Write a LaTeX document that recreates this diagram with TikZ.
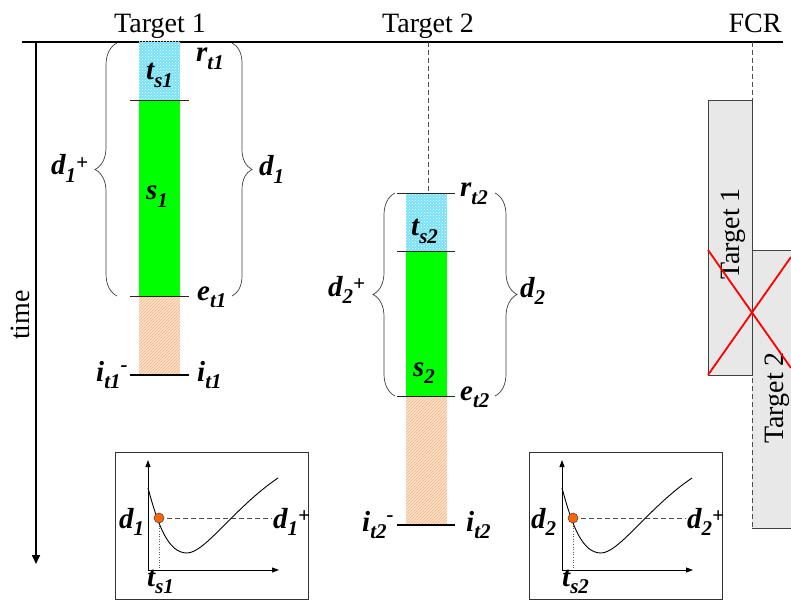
\documentclass[tikz,border=0pt]{standalone}
\usepackage{fontspec}
\setmainfont{Liberation Serif}
\usetikzlibrary{patterns,decorations.pathreplacing,arrows.meta}
\definecolor{cyanfill}{RGB}{120,225,246}
\definecolor{peach}{RGB}{252,226,204}
\definecolor{peachline}{RGB}{246,180,130}
\definecolor{dotorange}{RGB}{255,102,0}
\definecolor{boxgray}{RGB}{232,232,232}
\newcommand\sbs[1]{\raisebox{-0.25em}{\fontsize{21}{21}\selectfont #1}}
\newcommand\sps[1]{\raisebox{0.2em}{\fontsize{21}{21}\selectfont #1}}
\newcommand\spm[1]{\raisebox{0.32em}{\fontsize{21}{21}\selectfont #1}}
\begin{document}
\begin{tikzpicture}[x=1pt,y=-1pt,
  lab/.style={font=\fontsize{29}{29}\selectfont\bfseries\itshape, inner sep=0pt, anchor=base west},
  head/.style={font=\fontsize{28}{28}\selectfont, inner sep=0pt, anchor=base},
  thintick/.style={draw=black!85, line width=0.9pt},
  endtick/.style={draw=black, line width=2pt},
  bracel/.style={decorate, decoration={brace, amplitude=22pt}, draw=black!75, line width=0.7pt},
  bracer/.style={decorate, decoration={brace, amplitude=20pt}, draw=black!75, line width=0.7pt},
  lifeline/.style={draw=black!70, dashed, dash pattern=on 5pt off 3pt, line width=0.8pt},
  cyanbar/.style={fill=cyanfill},
  cyandots/.style={pattern=crosshatch dots, pattern color=white},
  peachbar/.style={fill=peach},
  peachhatch/.style={pattern=north east lines, pattern color=peachline},
  greenbar/.style={fill=green},
  fcrbox/.style={fill=boxgray, draw=black!75, line width=0.8pt},
  redx/.style={draw=red, line width=1.8pt},
  insetbox/.style={draw=black!80, line width=0.8pt},
  axis/.style={draw=black, line width=0.9pt, -{Triangle[length=7pt,width=5pt]}},
  curve/.style={draw=black, line width=0.9pt},
  guide/.style={draw=black!70, dashed, dash pattern=on 5pt off 3pt, line width=1pt},
  dropline/.style={draw=black!65, dotted, line width=0.6pt},
  markdot/.style={circle, fill=dotorange, draw=black!70, line width=0.6pt, minimum size=10pt, inner sep=0pt}
]
\useasboundingbox (0,0) rectangle (791,601);

% ---------- headers and axes ----------
\node[head] (h1) at (160,33) {Target 1};
\node[head] (h2) at (428,33) {Target 2};
\node[head] (h3) at (755,33) {FCR};
\coordinate (topL) at (22,42);
\coordinate (topR) at (783,42);
\draw[line width=2pt] (topL) -- (topR);
\coordinate (tax0) at (36,42);
\coordinate (tax1) at (36,564);
\draw[line width=1.6pt, -{Triangle[length=9pt,width=8pt]}] (tax0) -- (tax1);
\node[font=\fontsize{28}{28}\selectfont, rotate=90, inner sep=0pt] (timelab) at (20,315) {time};

% ---------- column 1 ----------
\fill[cyanbar] (139,42) rectangle (180,100);
\fill[cyandots] (139,42) rectangle (180,100);
\fill[greenbar] (139,100) rectangle (180,296);
\fill[peachbar] (139,296) rectangle (180,375);
\fill[peachhatch] (139,296) rectangle (180,375);
\coordinate (a1l) at (130,100); \coordinate (a1r) at (189,100);
\coordinate (b1l) at (130,296); \coordinate (b1r) at (189,296);
\coordinate (c1l) at (130,375); \coordinate (c1r) at (189,375);
\draw[thintick] (a1l) -- (a1r);
\draw[thintick] (b1l) -- (b1r);
\draw[endtick] (c1l) -- (c1r);
\coordinate (br1lt) at (117,43); \coordinate (br1lb) at (117,296);
\coordinate (br1rt) at (232,43); \coordinate (br1rb) at (232,296);
\draw[bracel] (br1lb) -- (br1lt);
\draw[bracer] (br1rt) -- (br1rb);
\node[lab] (ts1) at (146,80) {t\sbs{s1}};
\node[lab] (rt1) at (196,62) {r\sbs{t1}};
\node[lab] (d1p) at (51,175) {d\sbs{1}\sps{+}};
\node[lab] (d1) at (259,176) {d\sbs{1}};
\node[lab] (s1) at (146,200) {s\sbs{1}};
\node[lab] (et1) at (197,300) {e\sbs{t1}};
\node[lab] (it1m) at (96,381) {i\sbs{t1}\spm{-}};
\node[lab] (it1) at (197,381) {i\sbs{t1}};

% ---------- column 2 ----------
\coordinate (l2top) at (428,42);
\coordinate (l2bot) at (428,193);
\draw[lifeline] (l2top) -- (l2bot);
\fill[cyanbar] (406,193) rectangle (447,251);
\fill[cyandots] (406,193) rectangle (447,251);
\fill[greenbar] (406,251) rectangle (447,396);
\fill[peachbar] (406,396) rectangle (447,525);
\fill[peachhatch] (406,396) rectangle (447,525);
\coordinate (a2l) at (397,193); \coordinate (a2r) at (455,193);
\coordinate (b2l) at (397,251); \coordinate (b2r) at (455,251);
\coordinate (c2l) at (397,396); \coordinate (c2r) at (455,396);
\coordinate (e2l) at (397,525); \coordinate (e2r) at (455,525);
\draw[thintick] (a2l) -- (a2r);
\draw[thintick] (b2l) -- (b2r);
\draw[thintick] (c2l) -- (c2r);
\draw[endtick] (e2l) -- (e2r);
\coordinate (br2lt) at (395,193); \coordinate (br2lb) at (395,396);
\coordinate (br2rt) at (495,193); \coordinate (br2rb) at (495,396);
\draw[bracel] (br2lb) -- (br2lt);
\draw[bracel] (br2rt) -- (br2rb);
\node[lab] (rt2) at (460,197) {r\sbs{t2}};
\node[lab] (ts2) at (411,236) {t\sbs{s2}};
\node[lab] (d2p) at (328,296) {d\sbs{2}\sps{+}};
\node[lab] (d2) at (520,297) {d\sbs{2}};
\node[lab] (s2) at (413,376) {s\sbs{2}};
\node[lab] (et2) at (460,400) {e\sbs{t2}};
\node[lab] (it2m) at (362,531) {i\sbs{t2}\spm{-}};
\node[lab] (it2) at (466,531) {i\sbs{t2}};

% ---------- FCR column ----------
\fill[boxgray] (752,250) rectangle (791,528);
\coordinate (t2a) at (791,250); \coordinate (t2b) at (752,250);
\coordinate (t2c) at (752,528); \coordinate (t2d) at (791,528);
\draw[draw=black!75, line width=0.8pt] (t2a) -- (t2b);
\draw[draw=black!75, line width=0.8pt] (t2c) -- (t2d);
\coordinate (fcrtop) at (752,42);
\coordinate (fcrbot) at (752,528);
\draw[lifeline] (fcrtop) -- (fcrbot);
\node[fcrbox, minimum width=44pt, minimum height=275pt, inner sep=0pt] (fb1) at (730,237.5) {};
\node[font=\fontsize{28}{28}\selectfont, rotate=90, inner sep=0pt] (fb1t) at (733,234) {Target 1};
\node[font=\fontsize{28}{28}\selectfont, rotate=90, inner sep=0pt] (fb2t) at (777,398) {Target 2};
\coordinate (x1a) at (708,250); \coordinate (x1b) at (791,368);
\coordinate (x2a) at (708,375); \coordinate (x2b) at (791,257);
\draw[redx] (x1a) -- (x1b);
\draw[redx] (x2a) -- (x2b);

% ---------- inset 1 ----------
\node[insetbox, minimum width=193pt, minimum height=147pt, inner sep=0pt] (ib1) at (211.5,525.5) {};
\coordinate (o1) at (148,570);
\coordinate (yt1) at (148,460);
\coordinate (xt1) at (279,570);
\draw[axis] (o1) -- (yt1);
\draw[axis] (o1) -- (xt1);
\coordinate (g1a) at (159,518);
\coordinate (g1b) at (272,518);
\coordinate (g1c) at (159,570);
\draw[guide] (g1a) -- (g1b);
\draw[dropline] (g1a) -- (g1c);
\coordinate (c1s) at (148,488);
\coordinate (c1m) at (187,553);
\coordinate (c1e) at (278,478);
\draw[curve] (c1s) .. controls (158,525) and (168,553) .. (c1m) .. controls (205,553) and (235,507) .. (c1e);
\node[markdot] (dot1) at (g1a) {};
\node[lab] (id1) at (119,528) {d\sbs{1}};
\node[lab] (id1p) at (273,528) {d\sbs{1}\sps{+}};
\node[lab] (its1) at (147,586) {t\sbs{s1}};

% ---------- inset 2 ----------
\node[insetbox, minimum width=193pt, minimum height=147pt, inner sep=0pt] (ib2) at (625.5,525.5) {};
\coordinate (o2) at (562,570);
\coordinate (yt2) at (562,460);
\coordinate (xt2) at (693,570);
\draw[axis] (o2) -- (yt2);
\draw[axis] (o2) -- (xt2);
\coordinate (g2a) at (573,518);
\coordinate (g2b) at (686,518);
\coordinate (g2c) at (573,570);
\draw[guide] (g2a) -- (g2b);
\draw[dropline] (g2a) -- (g2c);
\coordinate (c2s) at (562,488);
\coordinate (c2m) at (601,553);
\coordinate (c2e) at (692,478);
\draw[curve] (c2s) .. controls (572,525) and (582,553) .. (c2m) .. controls (619,553) and (649,507) .. (c2e);
\node[markdot] (dot2) at (g2a) {};
\node[lab] (id2) at (531,528) {d\sbs{2}};
\node[lab] (id2p) at (687,528) {d\sbs{2}\sps{+}};
\node[lab] (its2) at (562,586) {t\sbs{s2}};
\end{tikzpicture}
\end{document}
